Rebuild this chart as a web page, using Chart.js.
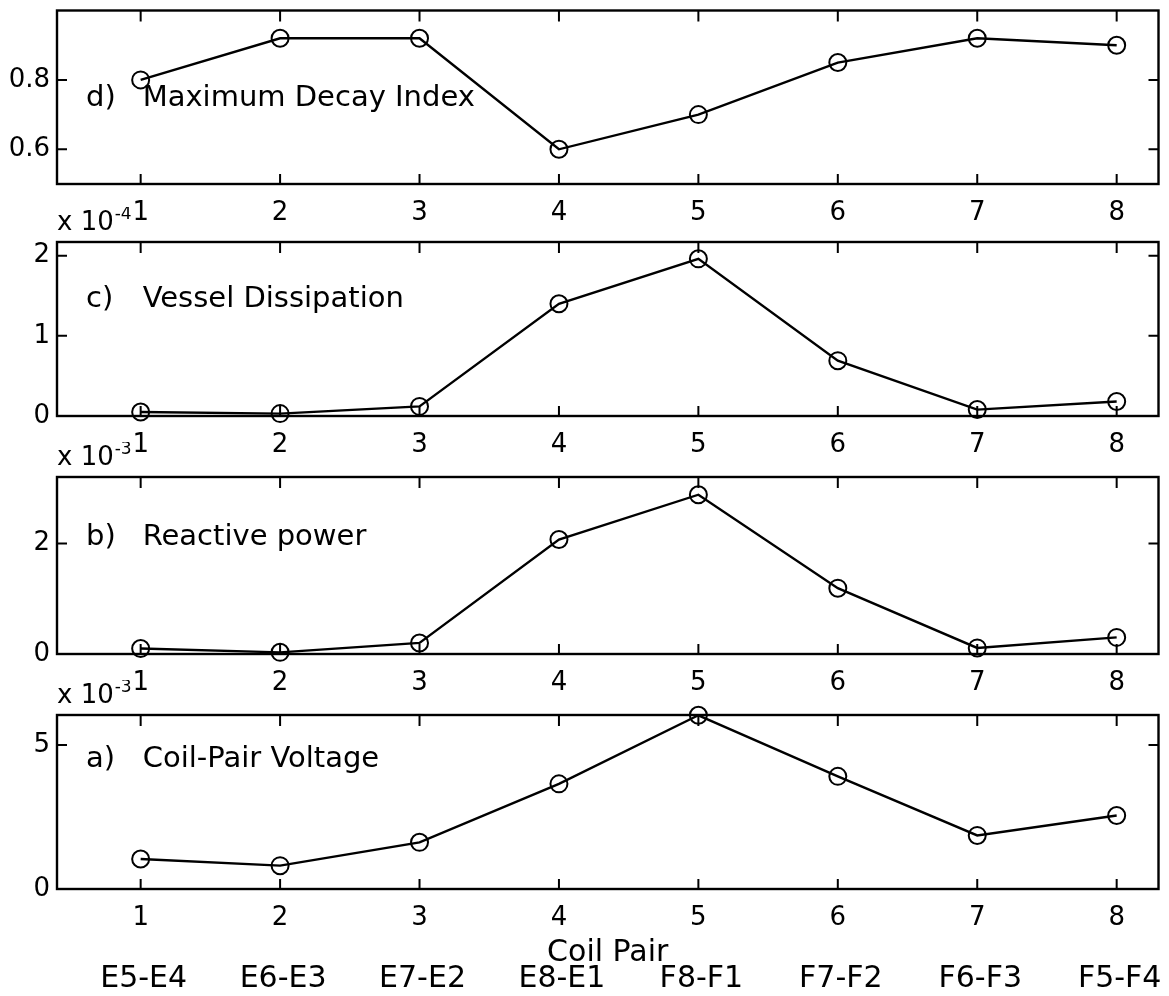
<!DOCTYPE html>
<html lang="en">
<head>
  <meta charset="UTF-8">
  <title>Coil Pair</title>
  <script src="https://cdn.jsdelivr.net/npm/chart.js"></script>
  <style>
    body {
      margin: 0;
      background: #fff;
    }

    #figure {
      position: relative;
      width: 1169px;
      height: 996px;
    }

    .panel {
      position: absolute;
      left: 0;
      width: 1169px;
    }
  </style>
</head>
<body>
  <div id="figure">
    <div class="panel" style="top:0;height:229px"><canvas id="chartD"></canvas></div>
    <div class="panel" style="top:207px;height:254px"><canvas id="chartC"></canvas></div>
    <div class="panel" style="top:442px;height:257px"><canvas id="chartB"></canvas></div>
    <div class="panel" style="top:680px;height:316px"><canvas id="chartA"></canvas></div>
  </div>

  <script>
    // Coil pairs along the x axis
    const pairIndex = [1, 2, 3, 4, 5, 6, 7, 8];
    const coilPairs = ['E5-E4', 'E6-E3', 'E7-E2', 'E8-E1', 'F8-F1', 'F7-F2', 'F6-F3', 'F5-F4'];

    // Series values (b, c, a are in units of the exponent shown above the panel)
    const decayIndex = [0.80, 0.92, 0.92, 0.60, 0.70, 0.85, 0.92, 0.90];
    const vesselDissipation = [0.05, 0.03, 0.12, 1.40, 1.96, 0.69, 0.08, 0.18];   // x 10^-4
    const reactivePower = [0.10, 0.03, 0.20, 2.07, 2.88, 1.19, 0.11, 0.30];       // x 10^-3
    const coilVoltage = [1.04, 0.81, 1.62, 3.65, 6.03, 3.91, 1.86, 2.55];         // x 10^-3

    // Tick labels
    const xTicks = [1, 2, 3, 4, 5, 6, 7, 8];
    const yTicksD = [0.6, 0.8];
    const yTicksC = [0, 1, 2];
    const yTicksB = [0, 2];
    const yTicksA = [0, 5];

    const FONT = 'DejaVu Sans';
    Chart.defaults.color = '#000';
    Chart.defaults.font.family = FONT;

    // MATLAB style box with inward ticks, panel label, exponent and bottom labels
    const boxPlugin = {
      id: 'matlabBox',
      afterDraw(chart, args, opts) {
        const { ctx, chartArea: a, scales: { x, y } } = chart;
        ctx.save();
        ctx.strokeStyle = '#000';
        ctx.lineWidth = 2.4;
        ctx.strokeRect(a.left, a.top, a.right - a.left, a.bottom - a.top);

        ctx.lineWidth = 2;
        ctx.beginPath();
        x.ticks.forEach(t => {
          const px = x.getPixelForValue(t.value);
          ctx.moveTo(px, a.top);
          ctx.lineTo(px, a.top + 11);
          ctx.moveTo(px, a.bottom);
          ctx.lineTo(px, a.bottom - 10);
        });
        y.ticks.forEach(t => {
          const py = y.getPixelForValue(t.value);
          ctx.moveTo(a.left, py);
          ctx.lineTo(a.left + 10, py);
          ctx.moveTo(a.right, py);
          ctx.lineTo(a.right - 10, py);
        });
        ctx.stroke();

        ctx.fillStyle = '#000';
        ctx.textBaseline = 'middle';
        ctx.font = '29px ' + FONT;
        const ty = y.getPixelForValue(opts.titleY);
        ctx.fillText(opts.tag, a.left + 29, ty);
        ctx.fillText(opts.title, x.getPixelForValue(1) + 2, ty);

        if (opts.exponent) {
          ctx.textBaseline = 'alphabetic';
          ctx.font = '26px ' + FONT;
          ctx.fillText('x 10', a.left, a.top - 12);
          const w = ctx.measureText('x 10').width;
          ctx.font = '17px ' + FONT;
          ctx.fillText(opts.exponent, a.left + w + 1, a.top - 23);
        }

        if (opts.names) {
          ctx.textBaseline = 'middle';
          ctx.textAlign = 'center';
          ctx.font = '30px ' + FONT;
          ctx.fillText(opts.xTitle, (a.left + a.right) / 2, a.bottom + 64);
          opts.names.forEach((name, i) => {
            ctx.fillText(name, x.getPixelForValue(pairIndex[i]) + 3, a.bottom + 90);
          });
        }
        ctx.restore();
      }
    };

    const makePanel = (id, values, yMin, yMax, yTicks, padTop, padBottom, box) => {
      const ctx = document.getElementById(id).getContext('2d');
      return new Chart(ctx, {
        type: 'line',
        data: {
          datasets: [{
            data: pairIndex.map((p, i) => ({ x: p, y: values[i] })),
            borderColor: '#000',
            borderWidth: 2.4,
            pointRadius: 8.5,
            pointBorderWidth: 2,
            pointBorderColor: '#000',
            pointBackgroundColor: 'rgba(0,0,0,0)',
            tension: 0,
            clip: false
          }]
        },
        options: {
          responsive: true,
          maintainAspectRatio: false,
          animation: false,
          layout: { padding: { top: padTop, right: 5, bottom: padBottom, left: 0 } },
          plugins: {
            legend: { display: false },
            tooltip: { enabled: false },
            matlabBox: box
          },
          scales: {
            x: {
              type: 'linear',
              min: 0.4,
              max: 8.3,
              afterBuildTicks: s => { s.ticks = xTicks.map(v => ({ value: v })); },
              afterFit: s => { s.height = 45; s.paddingLeft = 0; s.paddingRight = 0; },
              ticks: { padding: 14, font: { size: 26 }, callback: v => String(v) },
              grid: { display: false, drawTicks: false },
              border: { display: false }
            },
            y: {
              min: yMin,
              max: yMax,
              afterBuildTicks: s => { s.ticks = yTicks.map(v => ({ value: v })); },
              afterFit: s => { s.width = 57; s.paddingTop = 0; s.paddingBottom = 0; },
              ticks: { padding: 7, font: { size: 26 }, callback: v => String(v) },
              grid: { display: false, drawTicks: false },
              border: { display: false }
            }
          }
        },
        plugins: [boxPlugin]
      });
    };

    makePanel('chartD', decayIndex, 0.5, 1.0, yTicksD, 10, 0,
      { tag: 'd)', title: 'Maximum Decay Index', titleY: 0.746 });
    makePanel('chartC', vesselDissipation, 0, 2.17, yTicksC, 35, 0,
      { tag: 'c)', title: 'Vessel Dissipation', titleY: 1.45, exponent: '-4' });
    makePanel('chartB', reactivePower, 0, 3.2, yTicksB, 35, 0,
      { tag: 'b)', title: 'Reactive power', titleY: 2.11, exponent: '-3' });
    makePanel('chartA', coilVoltage, 0, 6.04, yTicksA, 35, 62,
      { tag: 'a)', title: 'Coil-Pair Voltage', titleY: 4.49, exponent: '-3',
        xTitle: 'Coil Pair', names: coilPairs });
  </script>
</body>
</html>
